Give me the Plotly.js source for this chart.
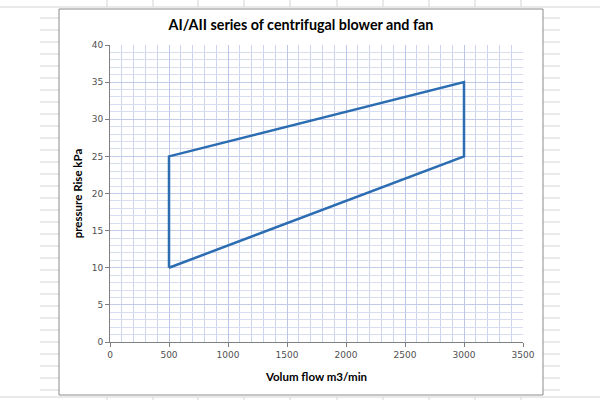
<!DOCTYPE html>
<html>
<head>
<meta charset="utf-8">
<script src="https://cdn.plot.ly/plotly-3.0.1.min.js"></script>
<style>
  html, body { margin: 0; padding: 0; background: #fff; }
  #chart { width: 600px; height: 400px; }
</style>
</head>
<body>
<div id="chart"></div>
<script>
  // operating envelope (closed polygon)
  var flow = [500, 500, 3000, 3000, 500];
  var pressure = [10, 25, 35, 25, 10];
  var xTicks = [0, 500, 1000, 1500, 2000, 2500, 3000, 3500];
  var yTicks = [0, 5, 10, 15, 20, 25, 30, 35, 40];

  // plot area in pixels, used to put the sheet lines / chart frame around it
  var L = 110, R = 77, T = 45, B = 58;
  var W = 600 - L - R, H = 400 - T - B;
  function px(x) { return (x - L) / W; }
  function py(y) { return (400 - B - y) / H; }

  var shapes = [];
  var sheet = { color: '#d4d4d4', width: 1 };
  // worksheet cell lines showing around the chart
  for (var y = 18; y < 400; y += 12) {
    shapes.push({ type: 'line', xref: 'paper', yref: 'paper', layer: 'below',
      x0: px(40), x1: px(59), y0: py(y), y1: py(y), line: sheet });
    shapes.push({ type: 'line', xref: 'paper', yref: 'paper', layer: 'below',
      x0: px(543), x1: px(560), y0: py(y), y1: py(y), line: sheet });
  }
  [107, 153, 198, 244, 290, 337, 383, 429, 475, 521].forEach(function (x) {
    shapes.push({ type: 'line', xref: 'paper', yref: 'paper', layer: 'below',
      x0: px(x), x1: px(x), y0: py(0), y1: py(7), line: sheet });
    shapes.push({ type: 'line', xref: 'paper', yref: 'paper', layer: 'below',
      x0: px(x), x1: px(x), y0: py(397), y1: py(400), line: sheet });
  });
  shapes.push({ type: 'line', xref: 'paper', yref: 'paper', layer: 'below',
    x0: px(0), x1: px(600), y0: py(7), y1: py(7), line: sheet });
  shapes.push({ type: 'line', xref: 'paper', yref: 'paper', layer: 'below',
    x0: px(0), x1: px(600), y0: py(397), y1: py(397), line: sheet });
  // chart area frame
  shapes.push({ type: 'rect', xref: 'paper', yref: 'paper', layer: 'below',
    x0: px(59), x1: px(543), y0: py(395), y1: py(9),
    fillcolor: '#ffffff', line: { color: '#8c8c8c', width: 1 } });

  var data = [{
    x: flow,
    y: pressure,
    type: 'scatter',
    mode: 'lines',
    line: { color: '#2c6db2', width: 2.5 },
    hoverinfo: 'x+y'
  }];

  var tickFont = { family: 'DejaVu Sans, Verdana, sans-serif', size: 9, color: '#505050' };
  var titleFont = { family: 'Lato, Calibri, sans-serif', size: 11.5, color: '#000', weight: 'bold' };

  var layout = {
    width: 600,
    height: 400,
    margin: { l: L, r: R, t: T, b: B },
    paper_bgcolor: '#ffffff',
    plot_bgcolor: 'rgba(0,0,0,0)',
    showlegend: false,
    title: {
      text: 'AI/AII series of centrifugal blower and fan',
      font: { family: 'Lato, Calibri, sans-serif', size: 14.3, color: '#000', weight: 'bold' },
      x: px(301), xanchor: 'center', xref: 'paper',
      y: 1 - 25 / 400, yanchor: 'middle'
    },
    xaxis: {
      range: [0, 3500],
      tickvals: xTicks,
      ticktext: xTicks.map(String),
      ticks: 'outside', ticklen: 4, tickcolor: '#7f7f7f',
      tickfont: tickFont,
      showline: true, linecolor: '#7f7f7f', linewidth: 1,
      showgrid: true, gridcolor: '#bcc6e8', gridwidth: 1,
      minor: { dtick: 100, showgrid: true, gridcolor: '#cbd3ee', gridwidth: 1 },
      zeroline: false,
      fixedrange: true,
      title: { text: 'Volum flow m3/min', font: titleFont, standoff: 14 }
    },
    yaxis: {
      range: [0, 40],
      tickvals: yTicks,
      ticktext: yTicks.map(String),
      ticks: 'outside', ticklen: 4, tickcolor: '#7f7f7f',
      tickfont: tickFont,
      showline: true, linecolor: '#7f7f7f', linewidth: 1,
      showgrid: true, gridcolor: '#c3cbea', gridwidth: 1,
      minor: { dtick: 1, showgrid: true, gridcolor: '#d8ddf2', gridwidth: 1 },
      zeroline: false,
      fixedrange: true,
      title: { text: 'pressure Rise kPa', font: titleFont, standoff: 6 }
    },
    shapes: shapes
  };

  Plotly.newPlot('chart', data, layout, { displayModeBar: false, staticPlot: true });
</script>
</body>
</html>
